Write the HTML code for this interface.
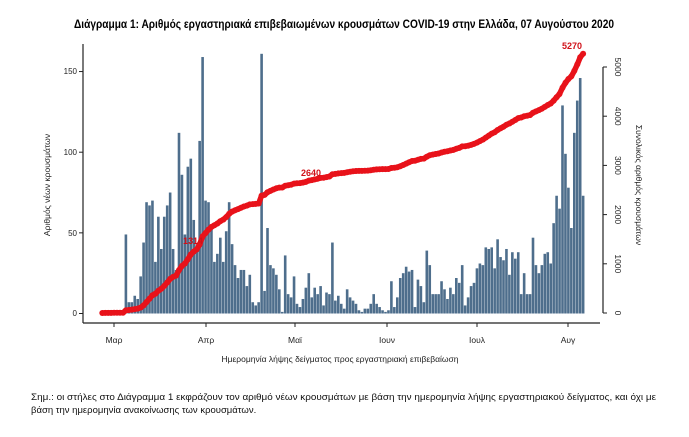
<!DOCTYPE html>
<html><head><meta charset="utf-8"><style>
html,body{margin:0;padding:0;background:#fff;}
svg{display:block;font-family:"Liberation Sans","DejaVu Sans",sans-serif;}
</style></head><body>
<svg id="s" width="689" height="437" viewBox="0 0 689 437" xmlns="http://www.w3.org/2000/svg">
<text x="344" y="28" text-anchor="middle" font-size="12" font-weight="bold" textLength="540" lengthAdjust="spacingAndGlyphs">Διάγραμμα 1: Αριθμός εργαστηριακά επιβεβαιωμένων κρουσμάτων COVID-19 στην Ελλάδα, 07 Αυγούστου 2020</text>
<g id="bars" fill="#4e6e8c"></g>
<g id="red"></g>
<g stroke="#222" stroke-width="1.2" fill="none">
<line x1="83" y1="44" x2="83" y2="323"/>
<line x1="83" y1="323" x2="600" y2="323"/>
<line x1="603" y1="67" x2="603" y2="313"/>
</g>
<g id="ticks" stroke="#222" stroke-width="1" fill="none"></g>
<g font-size="8" fill="#222" text-anchor="end">
<text x="77" y="316">0</text><text x="77" y="236">50</text><text x="77" y="155">100</text><text x="77" y="74">150</text>
</g>
<g font-size="8.5" fill="#222" id="rlab"></g>
<g font-size="8.5" fill="#222" text-anchor="middle">
<text x="114" y="343">Μαρ</text><text x="206" y="343">Απρ</text><text x="295" y="343">Μαϊ</text><text x="387" y="343">Ιουν</text><text x="477" y="343">Ιουλ</text><text x="568" y="343">Αυγ</text>
</g>
<text x="340" y="362" text-anchor="middle" font-size="8.5" fill="#222">Ημερομηνία λήψης δείγματος προς εργαστηριακή επιβεβαίωση</text>
<text transform="translate(50,185) rotate(-90)" text-anchor="middle" font-size="8.5" fill="#222">Αριθμός νέων κρουσμάτων</text>
<text transform="translate(636,185) rotate(90)" text-anchor="middle" font-size="8.5" fill="#222">Συνολικός αριθμός κρουσμάτων</text>
<text x="31" y="400" font-size="9.5" fill="#111" textLength="625" lengthAdjust="spacingAndGlyphs">Σημ.: οι στήλες στο Διάγραμμα 1 εκφράζουν τον αριθμό νέων κρουσμάτων με βάση την ημερομηνία λήψης εργαστηριακού δείγματος, και όχι με</text>
<text x="31" y="413" font-size="9.5" fill="#111">βάση την ημερομηνία ανακοίνωσης των κρουσμάτων.</text>
</svg>
<script>
var d=[1,1,0,1,1,0,1,1,49,7,7,11,9,23,44,69,67,70,32,60,40,60,67,75,40,27,112,86,49,91,96,58,43,107,159,70,69,55,32,37,47,32,51,69,43,30,22,27,27,17,24,7,5,7,161,14,53,30,28,24,15,1,36,12,10,23,6,4,9,16,25,10,16,12,17,5,13,12,44,8,11,6,3,15,10,8,6,2,1,3,3,6,12,6,4,2,1,2,20,4,10,22,25,29,26,27,4,21,17,7,39,30,12,12,12,20,15,9,16,12,22,19,30,5,10,17,19,28,31,30,41,40,41,28,46,35,33,40,24,38,34,38,12,25,12,12,47,30,25,30,37,38,31,56,73,65,129,99,78,53,112,132,146,73];
var ns="http://www.w3.org/2000/svg";
function el(t,a,p){var e=document.createElementNS(ns,t);for(var k in a)e.setAttribute(k,a[k]);document.getElementById(p).appendChild(e);return e;}
var y0=313.5,k=1.613,tot=0;d.forEach(function(v){tot+=v;});
var cum=0,pts=[];
d.forEach(function(v,i){var x=101+2.95*i;var h=v*k;el('rect',{x:x.toFixed(2),y:(y0-h).toFixed(2),width:2.6,height:h.toFixed(2)},'bars');cum+=v;var c=cum/tot*5270;pts.push([x+1.3,313-c*0.0492]);});
el('polyline',{points:pts.map(function(p){return p[0].toFixed(1)+','+p[1].toFixed(1)}).join(' '),fill:'none',stroke:'#e8121a','stroke-width':5.5,'stroke-linejoin':'round'},'red');
pts.forEach(function(p){el('circle',{cx:p[0].toFixed(1),cy:p[1].toFixed(1),r:3,fill:'#e8121a'},'red');});
[[193,244,'1314'],[311,176,'2640'],[572,49,'5270']].forEach(function(t){var e=el('text',{x:t[0],y:t[1],'text-anchor':'middle','font-size':9,'font-weight':'bold',fill:'#d01018'},'red');e.textContent=t[2];});
[0,50,100,150].forEach(function(v){var y=y0-v*k;el('line',{x1:79,y1:y,x2:83,y2:y},'ticks');});
[114,206,295,387,477,568].forEach(function(x){el('line',{x1:x,y1:323,x2:x,y2:327},'ticks');});
[0,1000,2000,3000,4000,5000].forEach(function(v){var y=313-v*0.0492;el('line',{x1:603,y1:y,x2:607,y2:y},'ticks');var t=el('text',{transform:'translate(615,'+y+') rotate(90)','text-anchor':'middle'},'rlab');t.textContent=v;});
</script>
</body></html>
